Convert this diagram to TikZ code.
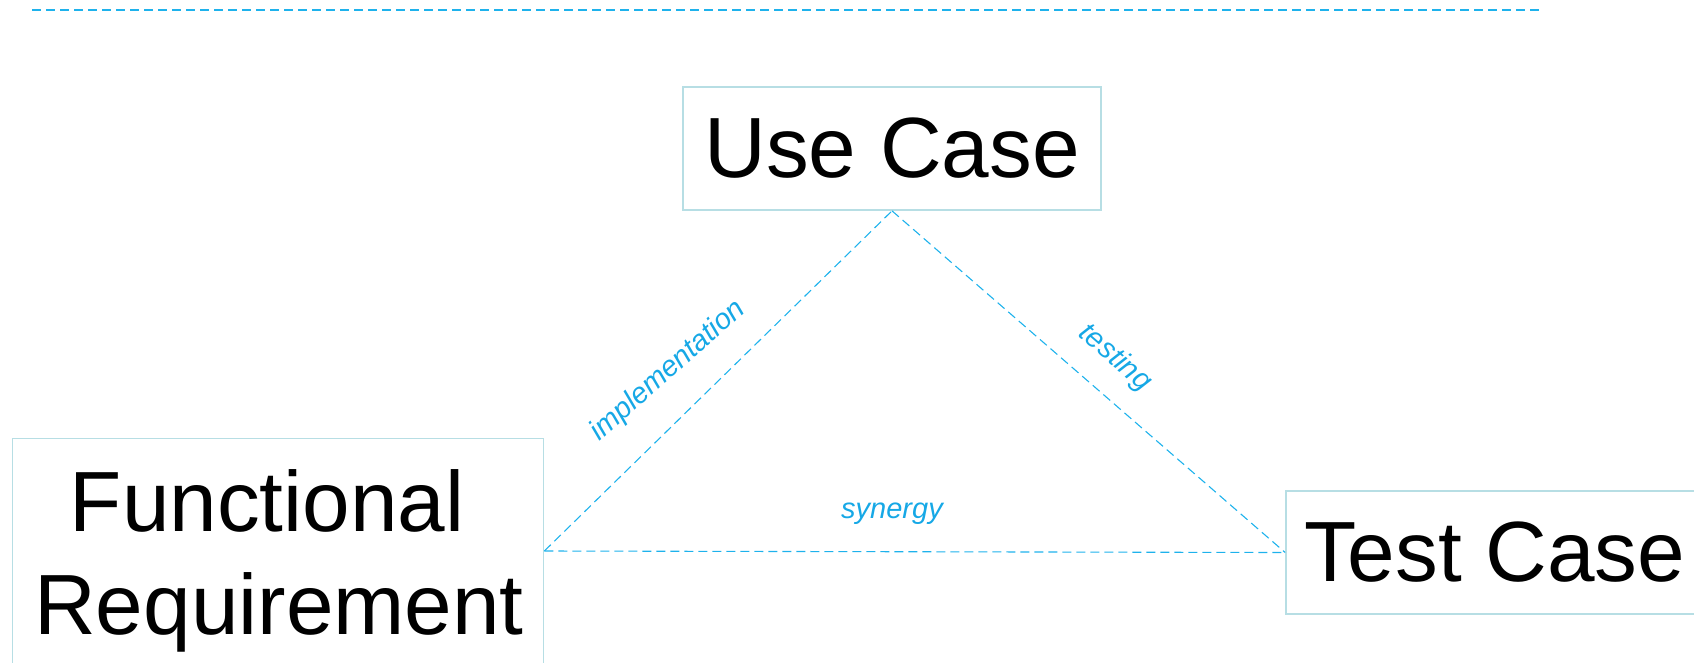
\documentclass[tikz,border=0pt]{standalone}
\usepackage{fontspec}
\setmainfont{Liberation Sans}
\definecolor{linkblue}{RGB}{30,178,236}
\definecolor{labelblue}{RGB}{22,168,230}
\definecolor{boxline}{RGB}{183,222,228}
\begin{document}
\begin{tikzpicture}[x=1pt,y=-1pt,
  entity/.style={draw=boxline, line width=1.7pt, inner sep=0pt,
    font=\fontsize{85.5}{103}\selectfont},
  bigtext/.style={inner sep=0pt, align=center, font=\fontsize{85.5}{103}\selectfont},
  link/.style={draw=linkblue, line width=1.1pt, dash pattern=on 9pt off 5pt},
  tag/.style={text=labelblue, inner sep=0pt, font=\fontsize{29}{35}\selectfont\itshape}]
\useasboundingbox (0,0) rectangle (1694,662);

% rule across the top
\coordinate (ruleL) at (32,10);
\coordinate (ruleR) at (1543,10);
\draw[link] (ruleL) -- (ruleR);

% the three artefacts
\node[entity, minimum width=418pt, minimum height=123pt] (uc) at (892,148.5) {Use Case};
\node[entity, minimum width=531pt, minimum height=225pt] (fr) at (278,551) {};
\node[bigtext, anchor=north] (frtext) at (279,469.3) {Functional\kern0.278em\\Requirement};
\node[entity, minimum width=418pt, minimum height=123pt] (tc) at (1495,552.5) {Test Case};

% relations between them
\draw[link] (fr.east) -- (uc.south);
\draw[link] (uc.south) -- (tc.west);
\draw[link] (fr.east) -- (tc.west);

\node[tag, rotate=41.5] (impl) at (668,371) {implementation};
\node[tag, rotate=-41] (test) at (1115,358) {testing};
\node[tag, anchor=base] (syn) at (892,518) {synergy};
\end{tikzpicture}
\end{document}
